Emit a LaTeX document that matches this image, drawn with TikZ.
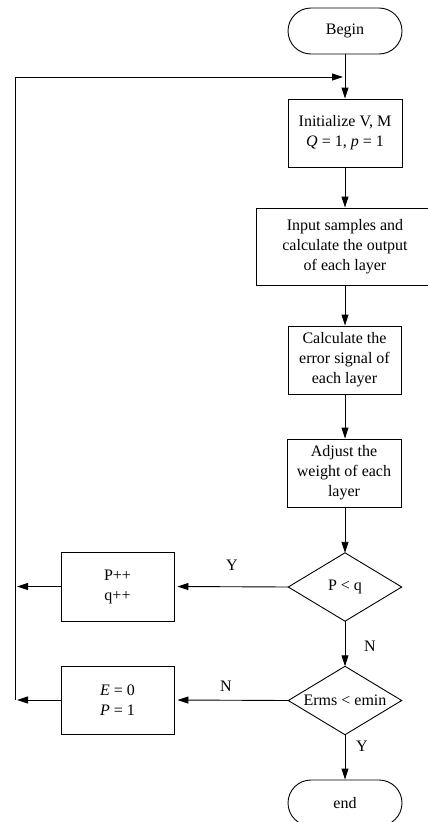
\documentclass[tikz,border=0pt]{standalone}
\usepackage{fontspec}
\setmainfont{Liberation Serif}
\usetikzlibrary{arrows.meta}
\begin{document}
\begin{tikzpicture}[x=1pt,y=-1pt,
  every node/.style={font=\fontsize{16}{20}\selectfont, align=center, inner sep=0pt},
  term/.style={draw, line width=0.9pt, rounded corners=23pt, minimum width=114pt, minimum height=46pt},
  proc/.style={draw, line width=0.9pt, minimum width=113pt, minimum height=68pt},
  decis/.style={minimum width=113pt, minimum height=68pt},
  arr/.style={line width=0.9pt, -{Triangle[length=11pt,width=7pt]}},
  ln/.style={line width=0.9pt},
  lbl/.style={font=\fontsize{16}{19}\selectfont}]
\useasboundingbox (0,0) rectangle (428,822);
\clip (0,0) rectangle (428,822);
\fill[white] (0,0) rectangle (428,822);
% nodes
\node[term] (begin) at (345,31) {Begin};
\node[proc, minimum width=114pt] (init) at (345,133) {Initialize V, M\\\textit{Q} = 1, \textit{p} = 1};
\node[proc, minimum width=178pt, minimum height=77pt] (input) at (345,246.5) {Input samples and\\calculate the output\\of each layer};
\node[proc] (calc) at (344.5,360) {Calculate the\\error signal of\\each layer};
\node[proc, minimum width=114pt] (adjust) at (344,473) {Adjust the\\weight of each\\layer};
\node[decis] (pq) at (345,587) {P < q};
\draw[ln] (pq.north) -- (pq.east) -- (pq.south) -- (pq.west) -- cycle;
\node[proc, minimum height=69pt] (pp) at (117.5,586.5) {P++\\q++};
\node[decis] (erms) at (345,700.5) {Erms < emin};
\draw[ln] (erms.north) -- (erms.east) -- (erms.south) -- (erms.west) -- cycle;
\node[proc] (e0) at (117.5,700) {\textit{E} = 0\\\textit{P} = 1};
\node[term] (end) at (345,803) {end};
% loop coordinates
\coordinate (L) at (15,77);
\coordinate (J) at (345,77);
% connectors
\draw[arr] (begin.south) -- (init.north);
\draw[arr] (init.south) -- (input.north);
\draw[arr] (input.south -| init.south) -- (calc.north -| init.south);
\draw[arr] (calc.south -| init.south) -- (adjust.north -| init.south);
\draw[arr] (adjust.south -| init.south) -- (pq.north);
\draw[arr] (pq.west) -- ([xshift=3pt]pp.east);
\draw[arr] (pq.south) -- (erms.north);
\draw[arr] (erms.west) -- ([xshift=3pt]e0.east);
\draw[arr] (erms.south) -- (end.north);
\draw[arr] (pp.west) -- ([xshift=2pt]pp.west -| L);
\draw[arr] (e0.west) -- ([xshift=2pt]e0.west -| L);
\draw[arr] (e0.west -| L) -- (L) -- ([xshift=-2pt]J);
% labels
\node[lbl] (y1) at (232,565) {Y};
\node[lbl] (n1) at (370,646) {N};
\node[lbl] (n2) at (226,686) {N};
\node[lbl] (y2) at (362,746) {Y};
\end{tikzpicture}
\end{document}
